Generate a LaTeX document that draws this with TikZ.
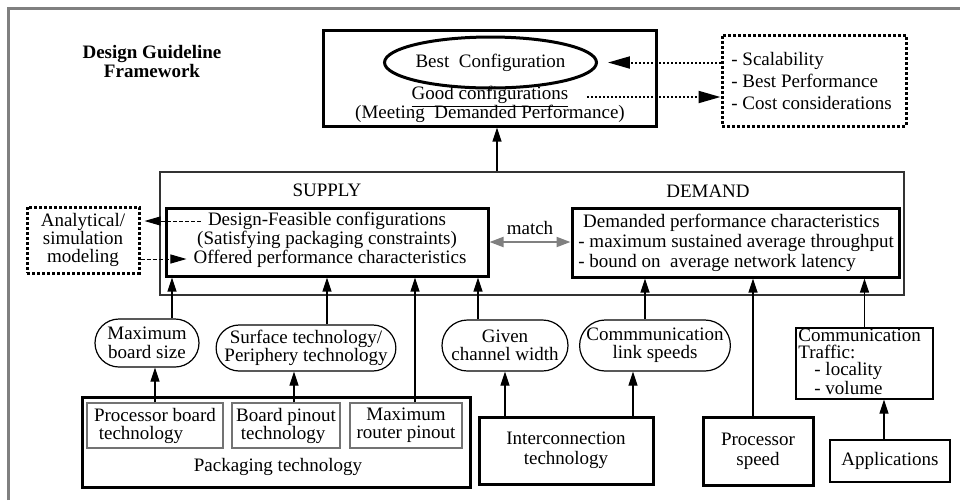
\documentclass[tikz,border=0pt]{standalone}
\usepackage{fontspec}
\setmainfont{Liberation Serif}
\usetikzlibrary{arrows.meta,calc,shapes.geometric,shapes.misc,positioning}
\tikzset {
  >={Triangle[length=7pt,width=4.5pt]},
  every node/.style={font=\fontsize{9.5}{10}\selectfont},
  thickbox/.style={draw,line width=1.5pt,inner sep=0pt,align=center},
  thinbox/.style={draw,line width=0.6pt,inner sep=0pt,align=center},
  graybox/.style={draw=black!55,line width=0.6pt,inner sep=0pt},
  dotbox/.style={draw,line width=1.5pt,dash pattern=on 1.5pt off 1pt,inner sep=0pt},
  pill/.style={draw,rounded rectangle,line width=0.6pt,inner sep=0pt,align=center},
  feed/.style={->,line width=0.6pt},
  hint/.style={-{Triangle[length=11pt,width=6pt]},line width=1pt,dash pattern=on 1pt off 1pt},
  smallhint/.style={-{Triangle[length=8pt,width=4.5pt]},line width=0.5pt,dash pattern=on 2pt off 1pt},
}

\begin{document}
\begin{tikzpicture}[x=0.5pt,y=-0.5pt]
          \useasboundingbox (0,0) rectangle (960,500);
          \draw[black!50,line width=1.5pt] (8,500) -- (8,8) -- (960,8);

          \node[font=\bfseries\fontsize{9.5}{9.5}\selectfont,align=center] (title) at (152,61) {Design Guideline\\Framework};

          % top: goal
          \node[thickbox,minimum width=166.5pt,minimum height=48pt] (goal) at (489.5,78) {};
          \node[draw,ellipse,line width=1.5pt,inner sep=0pt,minimum width=105.5pt,minimum height=25.5pt] (best) at (490.5,62.5) {Best~ Configuration};
          \node (good) at (490,97) {\underline{Good configurations}};
          \node (meeting) at (490,114) {(Meeting~ Demanded Performance)};
          \node[dotbox,minimum width=92pt,minimum height=45.5pt] (crit) at (814,80.5) {};
          \node[anchor=west,align=left,inner sep=0pt,font=\fontsize{9.5}{11}\selectfont] (crittext) at (731,80.5)
            {- Scalability\\- Best Performance\\- Cost considerations};
          \draw[hint,shorten >=5pt] (crit.west |- best.east) -- (best.east);
          \draw[hint] ([xshift=6pt]good.east) -- (crit.west |- good.east);

          % supply and demand
          \node[draw=black!80,line width=0.6pt,minimum width=372pt,minimum height=61.5pt] (supdem) at (532,233.5) {};
          \node (supply) at (327,190) {SUPPLY};
          \node (demand) at (708,191) {DEMAND};
          \node[thickbox,minimum width=161pt,minimum height=34pt] (supplyin) at (327,242) {};
          \node (feasible) at (327,221) {Design-Feasible configurations};
          \node (satisfying) at (327,240) {(Satisfying packaging constraints)};
          \node (offered) at (330,259) {Offered performance characteristics};
          \node[thickbox,minimum width=163.5pt,minimum height=34.5pt] (demandin) at (735.5,242.5) {};
          \node[anchor=west,align=left,inner sep=0pt] (demandtext) at (578,242.5)
            {~Demanded performance characteristics\\- maximum sustained average throughput\\- bound on~ average network latency};
          \draw[black!50,line width=1pt,{Triangle[length=7pt,width=5pt]}-{Triangle[length=7pt,width=5pt]}] (supplyin.east) -- node[above,black] {match} (supplyin.east -| demandin.west);
          \draw[feed] ([xshift=3.75pt]goal.south |- supdem.north) -- ([xshift=3.75pt]goal.south);

          \node[dotbox,align=center,minimum width=56pt,minimum height=33pt,font=\fontsize{9.5}{9}\selectfont] (model) at (83,240)
            {Analytical/\\simulation\\modeling};
          \draw[smallhint,shorten >=2pt] (feasible.west) -- (model.east |- feasible.west);
          \draw[smallhint] (model.east |- offered.west) -- (offered.west);

          % inputs
          \node[pill,minimum width=52pt,minimum height=24pt,font=\fontsize{9.5}{9.5}\selectfont] (maxboard) at (147,343) {Maximum\\board size};
          \node[pill,minimum width=89pt,minimum height=23pt,font=\fontsize{9.5}{9}\selectfont] (surface) at (306,348) {Surface technology/\\Periphery technology};
          \node[pill,minimum width=63pt,minimum height=25.5pt,font=\fontsize{9.5}{9}\selectfont] (given) at (505,345.5) {Given\\channel width};
          \node[pill,minimum width=75pt,minimum height=25.5pt,font=\fontsize{9.5}{9}\selectfont] (commlink) at (655,345.5) {Commmunication\\link speeds};
          \node[thinbox,minimum width=68.5pt,minimum height=35.5pt] (traffic) at (864.5,363.5) {};
          \node[anchor=west,align=left,inner sep=0pt,font=\fontsize{9.5}{8.5}\selectfont] (traffictext) at (798,362)
            {Communication\\Traffic:\\\hspace*{8pt}- locality\\\hspace*{8pt}- volume};
          \node[thinbox,minimum width=60pt,minimum height=21pt] (apps) at (890,461) {Applications};

          \node[thickbox,minimum width=194pt,minimum height=45pt] (packaging) at (276,442) {};
          \node (packlabel) at (278,467) {Packaging technology};
          \node[graybox,align=left,minimum width=68pt,minimum height=22.5pt,font=\fontsize{9.5}{9}\selectfont] (procboard) at (155,425.5) {Processor board\\\ technology};
          \node[graybox,align=left,minimum width=54pt,minimum height=22.5pt,font=\fontsize{9.5}{9}\selectfont] (boardpin) at (286,425.5) {Board pinout\\\ technology};
          \node[graybox,align=center,minimum width=56pt,minimum height=22.5pt,font=\fontsize{9.5}{9}\selectfont] (maxrouter) at (406,425.5) {Maximum\\router pinout};
          \node[thickbox,minimum width=87pt,minimum height=33.5pt] (interconn) at (566,450.5) {Interconnection\\technology};
          \node[thickbox,minimum width=55pt,minimum height=34pt] (procspeed) at (758,451) {Processor\\speed};

          \draw[feed] ([xshift=12.5pt]maxboard.north) -- ([xshift=12.5pt]maxboard.north |- supplyin.south);
          \draw[feed] ([xshift=10.5pt]surface.north) -- ([xshift=10.5pt]surface.north |- supplyin.south);
          \draw[feed] ([xshift=4.5pt]maxrouter.north) -- ([xshift=4.5pt]maxrouter.north |- supplyin.south);
          \draw[feed] ([xshift=-13.5pt]given.north) -- ([xshift=-13.5pt]given.north |- supplyin.south);
          \draw[feed] ([xshift=-5pt]commlink.north) -- ([xshift=-5pt]commlink.north |- demandin.south);
          \draw[feed] ([xshift=-2.5pt]procspeed.north) -- ([xshift=-2.5pt]procspeed.north |- demandin.south);
          \draw[feed] (traffic.north) -- (traffic.north |- demandin.south);

          \draw[feed] (procboard.north) -- (procboard.north |- maxboard.south);
          \draw[feed] ([xshift=4pt]boardpin.north) -- ([xshift=4pt]boardpin.north |- surface.south);
          \draw[feed] (given.south |- interconn.north) -- (given.south);
          \draw[feed] ([xshift=-11pt]commlink.south |- interconn.north) -- ([xshift=-11pt]commlink.south);
          \draw[feed] ([xshift=-3pt]apps.north) -- ([xshift=-3pt]apps.north |- traffic.south);
        \end{tikzpicture}
\end{document}
